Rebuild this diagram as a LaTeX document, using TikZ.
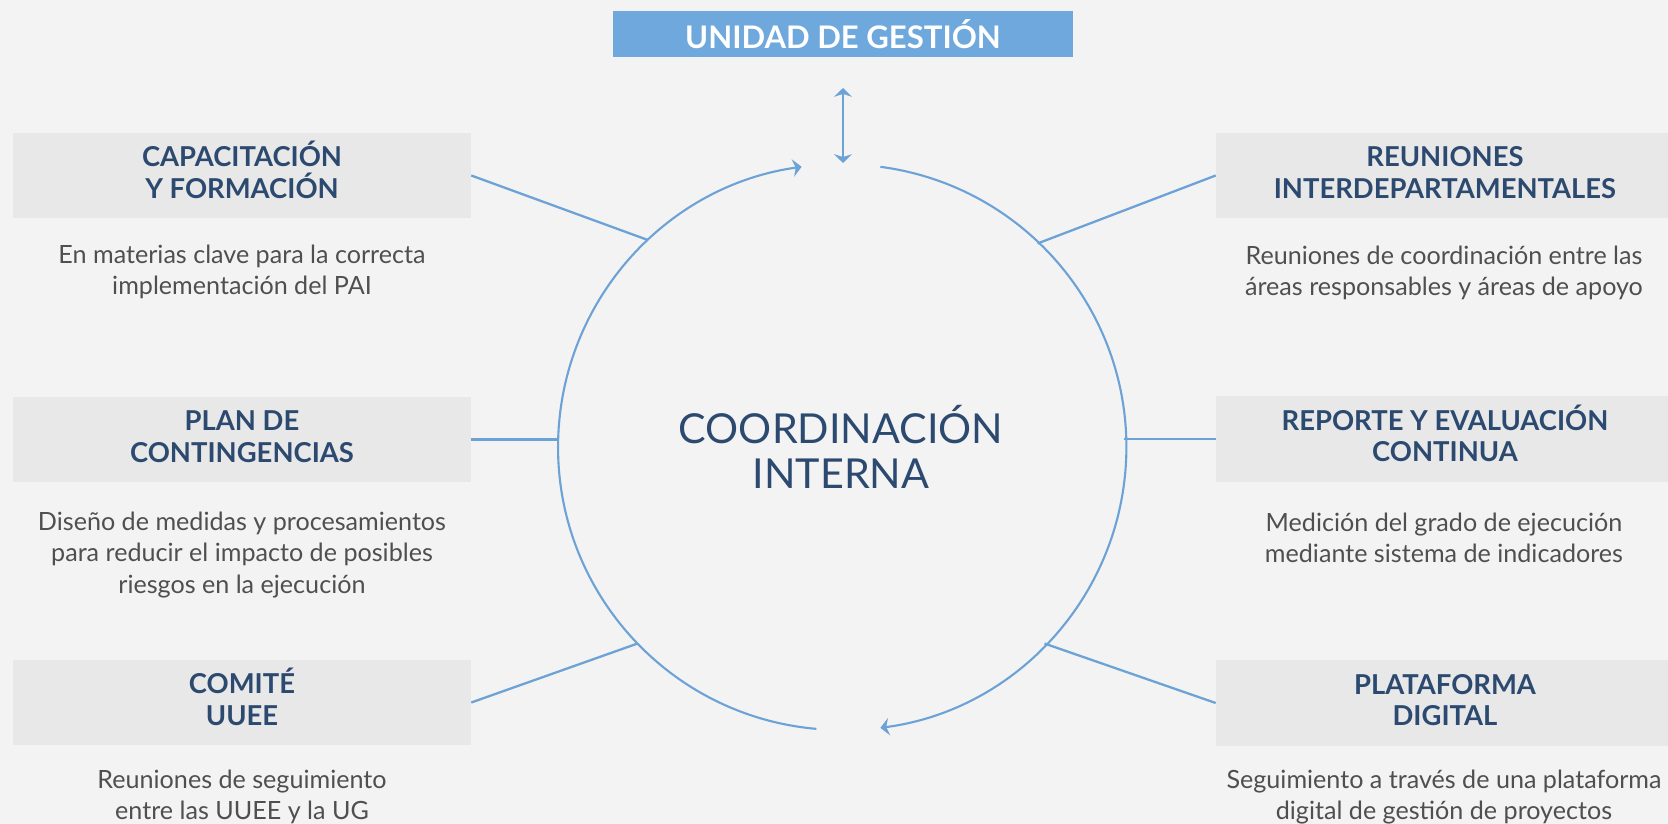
\documentclass[tikz,border=0pt]{standalone}
\usepackage{fontspec}
\setmainfont{Lato}
\usetikzlibrary{arrows.meta}

\definecolor{ugblue}{HTML}{6FA8DC}
\definecolor{lineblue}{HTML}{6CA2D6}
\definecolor{navy}{HTML}{2C4A70}
\definecolor{boxgray}{HTML}{E8E8E8}
\definecolor{bggray}{HTML}{F3F3F3}
\definecolor{descgray}{HTML}{4F4F4F}

\tikzset{
  title/.style={fill=boxgray, minimum width=9.16cm, minimum height=1.72cm,
    inner sep=0, align=center, text=navy, text height=0.92cm, text depth=0cm,
    font=\fontsize{15.6}{18}\selectfont\bfseries},
  desc/.style={align=center, text=descgray, font=\fontsize{14.3}{18}\selectfont},
  link/.style={draw=lineblue, line width=1.3pt},
}

\begin{document}
\begin{tikzpicture}[x=0.02cm, y=0.02cm, >={Stealth[length=5pt,width=10pt]}]
            \fill[bggray] (0,0) rectangle (1668,-824);
            \useasboundingbox (0,0) rectangle (1668,-824);

            \node[fill=ugblue, minimum width=9.2cm, minimum height=0.92cm, inner sep=0,
              text=white, font=\fontsize{17.7}{20}\selectfont\bfseries] (ug) at (843,-34) {UNIDAD DE GESTIÓN};
            \coordinate (ugtop) at (843,-88);
            \coordinate (ugbot) at (843,-163);

            \node[circle, minimum size=11.32cm, inner sep=0, outer sep=0, align=center,
              text=navy, font=\fontsize{23.5}{25.5}\selectfont] (ci) at (841,-447) {COORDINACIÓN\\INTERNA};

            % left column
            \node[title] (cap) at (242,-175.5) {CAPACITACIÓN\\Y FORMACIÓN};
            \node[desc] (capd) at (242,-272) {En materias clave para la correcta\\implementación del PAI};

            \node[title] (plan) at (242,-439.5) {PLAN DE\\CONTINGENCIAS};
            \node[desc] (pland) at (242,-555) {Diseño de medidas y procesamientos\\para reducir el impacto de posibles\\riesgos en la ejecución};

            \node[title] (com) at (242,-702.5) {COMITÉ\\UUEE};
            \node[desc] (comd) at (242,-797) {Reuniones de seguimiento\\entre las UUEE y la UG};

            % right column
            \node[title] (reu) at (1445,-175.5) {REUNIONES\\INTERDEPARTAMENTALES};
            \node[desc] (reud) at (1444,-273) {Reuniones de coordinación entre las\\áreas responsables y áreas de apoyo};

            \node[title] (rep) at (1445,-439) {REPORTE Y EVALUACIÓN\\CONTINUA};
            \node[desc] (repd) at (1444,-538) {Medición del grado de ejecución\\mediante sistema de indicadores};

            \node[title] (pla) at (1445,-703) {PLATAFORMA\\DIGITAL};
            \node[desc] (plad) at (1444,-797) {Seguimiento a través de una plataforma\\digital de gestión de proyectos};

            \draw[link] (cap.east) -- (ci.133);
            \draw[link] (plan.east) -- (plan.east -| ci.west);
            \draw[link] (com.east) -- (ci.224);
            \draw[link] (reu.west) -- (ci.46);
            \draw[link] (rep.west) -- (rep.west -| ci.east);
            \draw[link] (pla.west) -- (ci.316.6);

            \draw[link, line width=1.2pt, ->] (ci.265) arc[start angle=265, end angle=98, radius=5.66cm];
            \draw[link, line width=1.2pt, ->] (ci.82.5) arc[start angle=82.5, end angle=-82.5, radius=5.66cm];
            \draw[link, line width=1.2pt, <->] (ugtop) -- (ugbot);
        \end{tikzpicture}
\end{document}
